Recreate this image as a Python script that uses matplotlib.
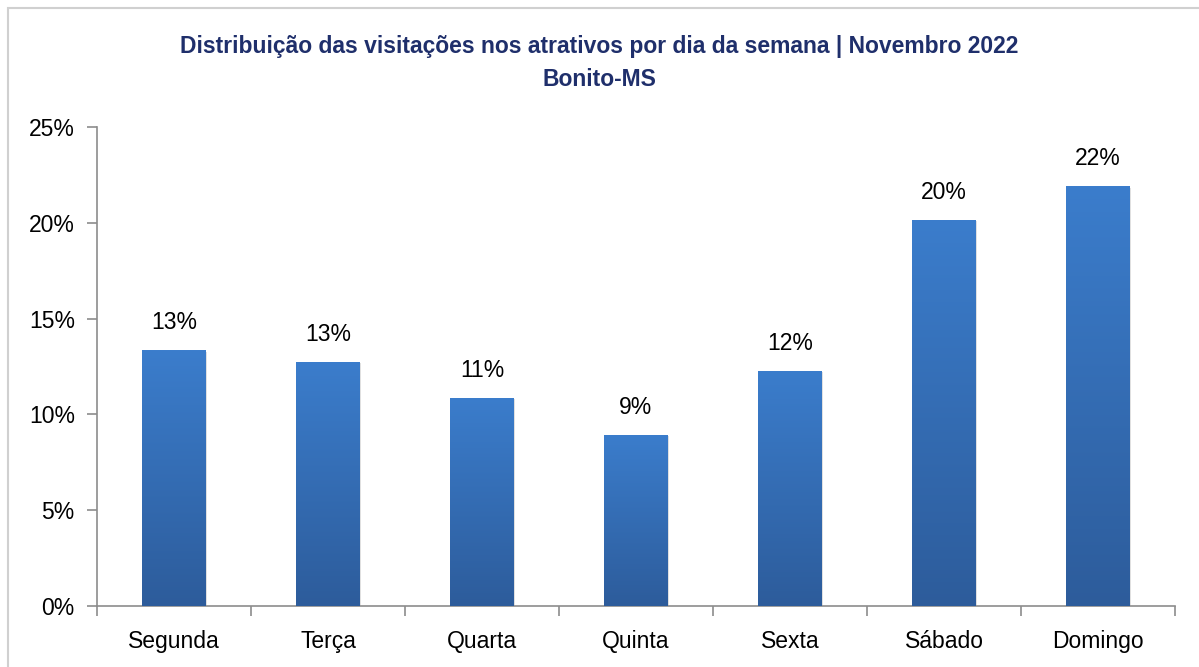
import numpy as np
import matplotlib
matplotlib.use("Agg")
import matplotlib.pyplot as plt
from matplotlib.patches import Rectangle
from matplotlib.colors import LinearSegmentedColormap

DAYS = ["Segunda", "Terça", "Quarta", "Quinta", "Sexta", "Sábado", "Domingo"]
SHARE = [13.36, 12.74, 10.86, 8.93, 12.27, 20.15, 21.92]
LABELS = ["13%", "13%", "11%", "9%", "12%", "20%", "22%"]
Y_TICKS = [0, 5, 10, 15, 20, 25]

TITLE_COLOR = "#1F2F6B"
TOP_COLOR = "#3B7DCC"
BOTTOM_COLOR = "#2D5C9B"
AXIS_COLOR = "#8C8C8C"

plt.rcParams["font.family"] = ["Liberation Sans", "DejaVu Sans"]

fig = plt.figure(figsize=(11.99, 6.67), dpi=100)
ax = fig.add_axes([97 / 1199, 1 - 606 / 667, (1175 - 97) / 1199, (606 - 127) / 667])

x = np.arange(len(DAYS))
bars = ax.bar(x, SHARE, width=0.41, color="none", edgecolor="none", zorder=3)

cmap = LinearSegmentedColormap.from_list("bar", [BOTTOM_COLOR, TOP_COLOR])
grad = np.linspace(0, 1, 256).reshape(-1, 1)
for b, lab in zip(bars, LABELS):
    x0, w, h = b.get_x(), b.get_width(), b.get_height()
    # soft shadow
    ax.add_patch(Rectangle((x0 + 0.012, 0), w, h - 0.08, color="#000000",
                           alpha=0.12, lw=0, zorder=2))
    im = ax.imshow(grad, cmap=cmap, origin="lower", aspect="auto",
                   extent=(x0, x0 + w, 0, h), zorder=3)
    im.set_clip_path(b)
    ax.text(x0 + w / 2, h + 0.85, lab, ha="center", va="bottom", fontsize=16.5)

ax.set_xlim(-0.5, len(DAYS) - 0.5)
ax.set_ylim(0, 25)
ax.set_yticks(Y_TICKS)
ax.set_yticklabels([f"{v}%" for v in Y_TICKS], fontsize=16.5)
ax.set_xticks(x)
ax.set_xticklabels(DAYS, fontsize=16.5)
ax.set_xticks(np.arange(len(DAYS) + 1) - 0.5, minor=True)

for side in ["top", "right"]:
    ax.spines[side].set_visible(False)
for side in ["left", "bottom"]:
    ax.spines[side].set_color(AXIS_COLOR)
    ax.spines[side].set_linewidth(1.2)
ax.tick_params(axis="y", length=7, color=AXIS_COLOR, width=1.2, pad=9)
ax.tick_params(axis="x", which="major", length=0, pad=17)
ax.tick_params(axis="x", which="minor", length=7, color=AXIS_COLOR, width=1.2)

fig.text(0.5, 1 - 46 / 667, "Distribuição das visitações nos atrativos por dia da semana | Novembro 2022",
         ha="center", va="center", fontsize=16.5, fontweight="bold", color=TITLE_COLOR)
fig.text(0.5, 1 - 80 / 667, "Bonito-MS", ha="center", va="center",
         fontsize=16.5, fontweight="bold", color=TITLE_COLOR)

# outer chart frame
fig.patches.append(Rectangle((8 / 1199, -0.01), 1.2, 1 - 8 / 667 + 0.01,
                             transform=fig.transFigure, fill=False,
                             edgecolor="#D0D0D0", lw=1.5))

fig.savefig("out.png", dpi=100)
